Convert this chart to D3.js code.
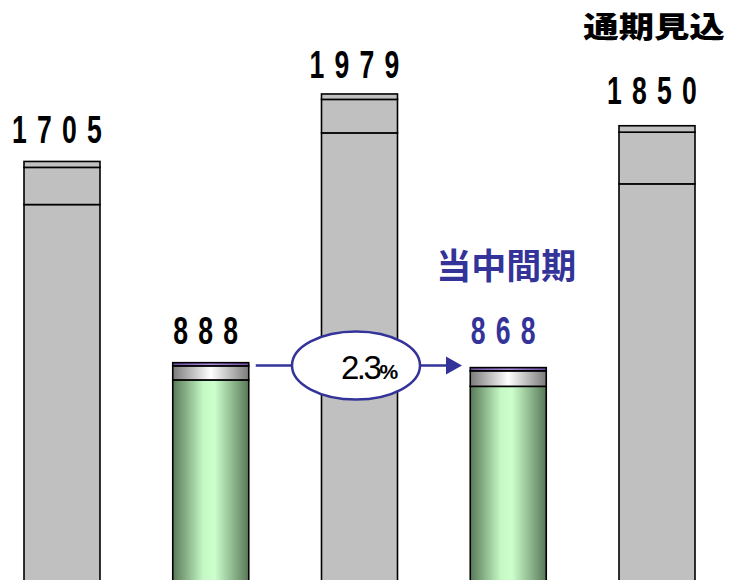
<!DOCTYPE html>
<html>
<head>
<meta charset="utf-8">
<script src="https://cdn.jsdelivr.net/npm/d3@7"></script>
<style>
  html, body { margin: 0; padding: 0; background: #fff; }
  svg { display: block; }
</style>
</head>
<body>
<svg id="chart"></svg>
<script>
// data
const categories = ['prevFull', 'prevInterim', 'lastFull', 'curInterim', 'forecast'];
const totals = [1705, 888, 1979, 868, 1850];
const capSeg = [24, 13, 22, 13, 26];
const upperSeg = [151, 57, 136, 63, 210];
const barKind = ['gray', 'green', 'gray', 'green', 'gray'];
const labelText = ['1705', '888', '1979', '868', '1850'];
const changeText = '2.3';
const interimTitle = '当中間期';
const forecastTitle = '通期見込';

const width = 732;
const height = 580;
const blue = '#333399';

const svg = d3.select('#chart').attr('width', width).attr('height', height);

const x = d3.scalePoint().domain(categories).range([62, 657]);
const y = d3.scaleLinear().domain([0, 2000]).range([581.4, 88.8]);
const barW = 76;

// gradients
const defs = svg.append('defs');
const green = defs.append('linearGradient').attr('id', 'greenGrad');
green.append('stop').attr('offset', '0%').attr('stop-color', '#587858');
green.append('stop').attr('offset', '40%').attr('stop-color', '#c4f8c4');
green.append('stop').attr('offset', '55%').attr('stop-color', '#ccffcc');
green.append('stop').attr('offset', '100%').attr('stop-color', '#587858');
const silver = defs.append('linearGradient').attr('id', 'silverGrad');
silver.append('stop').attr('offset', '0%').attr('stop-color', '#7a7a7a');
silver.append('stop').attr('offset', '50%').attr('stop-color', '#ffffff');
silver.append('stop').attr('offset', '100%').attr('stop-color', '#7a7a7a');
const violet = defs.append('linearGradient').attr('id', 'violetGrad');
violet.append('stop').attr('offset', '0%').attr('stop-color', '#6a4fa0');
violet.append('stop').attr('offset', '50%').attr('stop-color', '#b08ee0');
violet.append('stop').attr('offset', '100%').attr('stop-color', '#6a4fa0');

const rows = categories.map((c, i) => {
  const base = totals[i] - capSeg[i] - upperSeg[i];
  return { c, i, kind: barKind[i], segs: [
    { y0: 0, y1: base, part: 'base' },
    { y0: base, y1: base + upperSeg[i], part: 'upper' },
    { y0: base + upperSeg[i], y1: totals[i], part: 'cap' }
  ] };
});

const fillFor = (kind, part) => {
  if (kind === 'gray') return '#c0c0c0';
  if (part === 'base') return 'url(#greenGrad)';
  if (part === 'upper') return 'url(#silverGrad)';
  return 'url(#violetGrad)';
};

const bars = svg.append('g')
  .selectAll('g')
  .data(rows)
  .enter()
  .append('g');

bars.selectAll('rect')
  .data(d => d.segs.map(s => Object.assign({ c: d.c, kind: d.kind }, s)))
  .enter()
  .append('rect')
  .attr('x', d => x(d.c) - barW / 2)
  .attr('width', barW)
  .attr('y', d => y(d.y1))
  .attr('height', d => y(d.y0) - y(d.y1))
  .attr('fill', d => fillFor(d.kind, d.part))
  .attr('stroke', '#000')
  .attr('stroke-width', 1.6);

// value labels (condensed look via horizontal squeeze)
const labelDy = [18, 19, 16, 24, 22];
svg.append('g')
  .selectAll('text')
  .data(rows)
  .enter()
  .append('text')
  .attr('transform', d => `translate(${x(d.c)},${y(totals[d.i]) - labelDy[d.i]}) scale(0.7,1)`)
  .attr('text-anchor', 'middle')
  .attr('font-family', '"Liberation Sans", Arial, sans-serif')
  .attr('font-weight', 'bold')
  .attr('font-size', 38)
  .attr('letter-spacing', 14.5)
  .attr('fill', d => d.i === 3 ? blue : '#000')
  .text(d => labelText[d.i]);

// titles
svg.append('text')
  .attr('x', x(categories[3]) - 2)
  .attr('y', 279)
  .attr('text-anchor', 'middle')
  .attr('font-family', '"Noto Sans CJK JP", sans-serif')
  .attr('font-weight', 'bold')
  .attr('font-size', 35)
  .attr('fill', blue)
  .text(interimTitle);

svg.append('text')
  .attr('transform', 'translate(654,38) scale(1.22,1)')
  .attr('text-anchor', 'middle')
  .attr('font-family', '"Noto Sans CJK JP", sans-serif')
  .attr('font-weight', 900)
  .attr('font-size', 29)
  .attr('fill', '#000')
  .text(forecastTitle);

// growth arrow
const arrowY = 365.5;
const cx = 356, rx = 64, ry = 34;
svg.append('line')
  .attr('x1', x(categories[1]) + barW / 2 + 7).attr('y1', arrowY)
  .attr('x2', cx - rx).attr('y2', arrowY)
  .attr('stroke', blue).attr('stroke-width', 2.5);
svg.append('line')
  .attr('x1', cx + rx).attr('y1', arrowY)
  .attr('x2', 448).attr('y2', arrowY)
  .attr('stroke', blue).attr('stroke-width', 2.5);
svg.append('path')
  .attr('d', `M446,${arrowY - 9}L462,${arrowY}L446,${arrowY + 9}Z`)
  .attr('fill', blue);
svg.append('ellipse')
  .attr('cx', cx).attr('cy', arrowY)
  .attr('rx', rx).attr('ry', ry)
  .attr('fill', '#fff')
  .attr('stroke', blue).attr('stroke-width', 2.5);

const pct = svg.append('text')
  .attr('x', 341)
  .attr('y', 379)
  .attr('font-family', '"Liberation Sans", Arial, sans-serif')
  .attr('fill', '#000');
pct.append('tspan').attr('font-size', 33).attr('letter-spacing', -2.5).text(changeText);
pct.append('tspan').attr('font-size', 21).attr('font-weight', 'bold').text('%');
</script>
</body>
</html>
